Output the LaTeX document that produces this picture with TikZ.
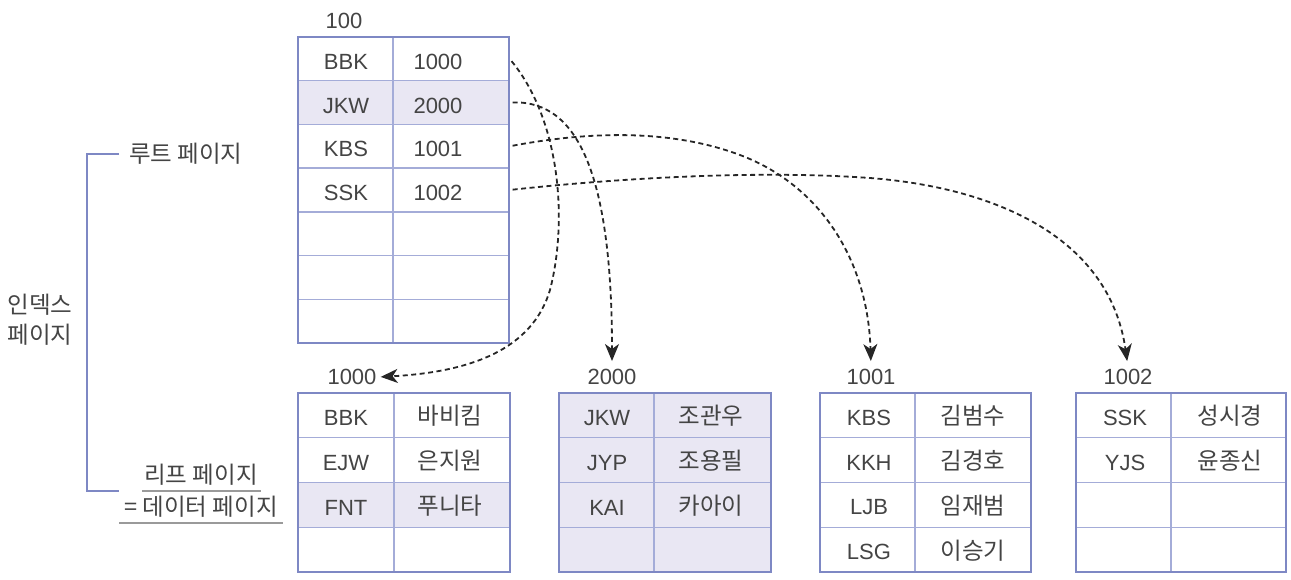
\documentclass[tikz,border=0pt]{standalone}
\usepackage{fontspec}
\setmainfont{Liberation Sans}
\newfontfamily\kr{Noto Sans CJK KR}
\usetikzlibrary{arrows.meta}
\definecolor{gridline}{HTML}{A4ACD8}
\definecolor{frame}{HTML}{7E88C4}
\definecolor{pagefill}{HTML}{E9E7F3}
\definecolor{ink}{HTML}{444444}
\definecolor{uline}{HTML}{9A9A9A}

\tikzset{
  txt/.style={text=ink, inner sep=2pt, font=\fontsize{22}{26}\selectfont},
  krtxt/.style={txt, font=\kr\fontsize{23.5}{30}\selectfont},
  rowbox/.style={draw=gridline, line width=1.3pt, minimum width=211pt, minimum height=43.7pt, inner sep=0pt},
  framebox/.style={draw=frame, line width=2.4pt},
  ptr/.style={draw=black!85, line width=1.8pt, dash pattern=on 5pt off 3.5pt,
    shorten <=3pt, -{Stealth[length=17pt,width=14pt,inset=5pt]}},
}

\begin{document}
\begin{tikzpicture}[x=1pt,y=-1pt]
\useasboundingbox (0,0) rectangle (1291,579);

% root page 100
\foreach \i/\f in {1/white,2/pagefill,3/white,4/white,5/white,6/white,7/white}
  \node[rowbox, fill=\f] (r\i) at (403.5, {37+(\i-0.5)*43.71}) {};
\draw[gridline, line width=1.3pt] (393,37) -- (393,343);
\draw[framebox] (298,37) rectangle (509,343);
\foreach \k/\v [count=\i] in {BBK/1000,JKW/2000,KBS/1001,SSK/1002} {
  \node[txt] (k\i) at (346, {40+(\i-0.5)*43.71}) {\k};
  \node[txt] (v\i) at (438, {40+(\i-0.5)*43.71}) {\v};
}
\node[txt] (n100) at (344,21) {100};

% leaf pages
\foreach \xl/\xm/\xr in {298/394/510, 559/654/771, 820/915/1031, 1076/1171/1286} {
  \ifnum\xl=559 \fill[pagefill] (\xl,393) rectangle (\xr,572); \fi
  \ifnum\xl=298 \fill[pagefill] (\xl,482.5) rectangle (\xr,527.25); \fi
  \foreach \j in {1,2,3}
    \draw[gridline, line width=1.3pt] (\xl,{393+\j*44.75}) -- (\xr,{393+\j*44.75});
  \draw[gridline, line width=1.3pt] (\xm,393) -- (\xm,572);
  \draw[framebox, line width=1.8pt] (\xl,393) rectangle (\xr,572);
}
\foreach \k/\v [count=\i] in {BBK/바비킴,EJW/은지원,FNT/푸니타} {
  \node[txt] (a\i) at (346, {418+(\i-1)*44.75}) {\k};
  \node[krtxt] (b\i) at (450, {416+(\i-1)*44.75}) {\v};
}
\foreach \k/\v [count=\i] in {JKW/조관우,JYP/조용필,KAI/카아이} {
  \node[txt] (c\i) at (607, {418+(\i-1)*44.75}) {\k};
  \node[krtxt] (d\i) at (711, {416+(\i-1)*44.75}) {\v};
}
\foreach \k/\v [count=\i] in {KBS/김범수,KKH/김경호,LJB/임재범,LSG/이승기} {
  \node[txt] (e\i) at (869, {418+(\i-1)*44.75}) {\k};
  \node[krtxt] (f\i) at (973, {416+(\i-1)*44.75}) {\v};
}
\foreach \k/\v [count=\i] in {SSK/성시경,YJS/윤종신} {
  \node[txt] (g\i) at (1125, {418+(\i-1)*44.75}) {\k};
  \node[krtxt] (h\i) at (1230, {416+(\i-1)*44.75}) {\v};
}
\node[txt] (n1000) at (352,377) {1000};
\node[txt] (n2000) at (612,377) {2000};
\node[txt] (n1001) at (871,377) {1001};
\node[txt] (n1002) at (1128,377) {1002};

% pointers
\draw[ptr, shorten >=2pt] (r1.east) .. controls (560,120) and (568,220) .. (550,290)
  .. controls (532,350) and (470,372) .. (n1000.east);
\draw[ptr, shorten >=6pt] (r2.east) .. controls (580,100) and (612,180) .. (n2000.north);
\draw[ptr, shorten >=6pt] (r3.east) .. controls (570,135) and (660,125) .. (740,155)
  .. controls (820,185) and (868,260) .. (n1001.north);
\draw[ptr, shorten >=6pt] (r4.east) .. controls (620,178) and (760,170) .. (870,178)
  .. controls (1000,188) and (1110,240) .. (n1002.north);

% left labels
\node[krtxt, anchor=west] (root) at (127,154) {루트 페이지};
\node[krtxt, align=center] (index) at (40,320) {인덱스\\페이지};
\node[krtxt] (leaf) at (201,475) {리프 페이지};
\node[krtxt] (data) at (201,507) {= 데이터 페이지};
\draw[uline, line width=1.3pt] (142,491) -- (261,491);
\draw[uline, line width=1.3pt] (119,523) -- (283,523);
\draw[frame, line width=1.6pt] ([xshift=-8pt]root.west) -| (87,491) -- (119,491);
\end{tikzpicture}
\end{document}
